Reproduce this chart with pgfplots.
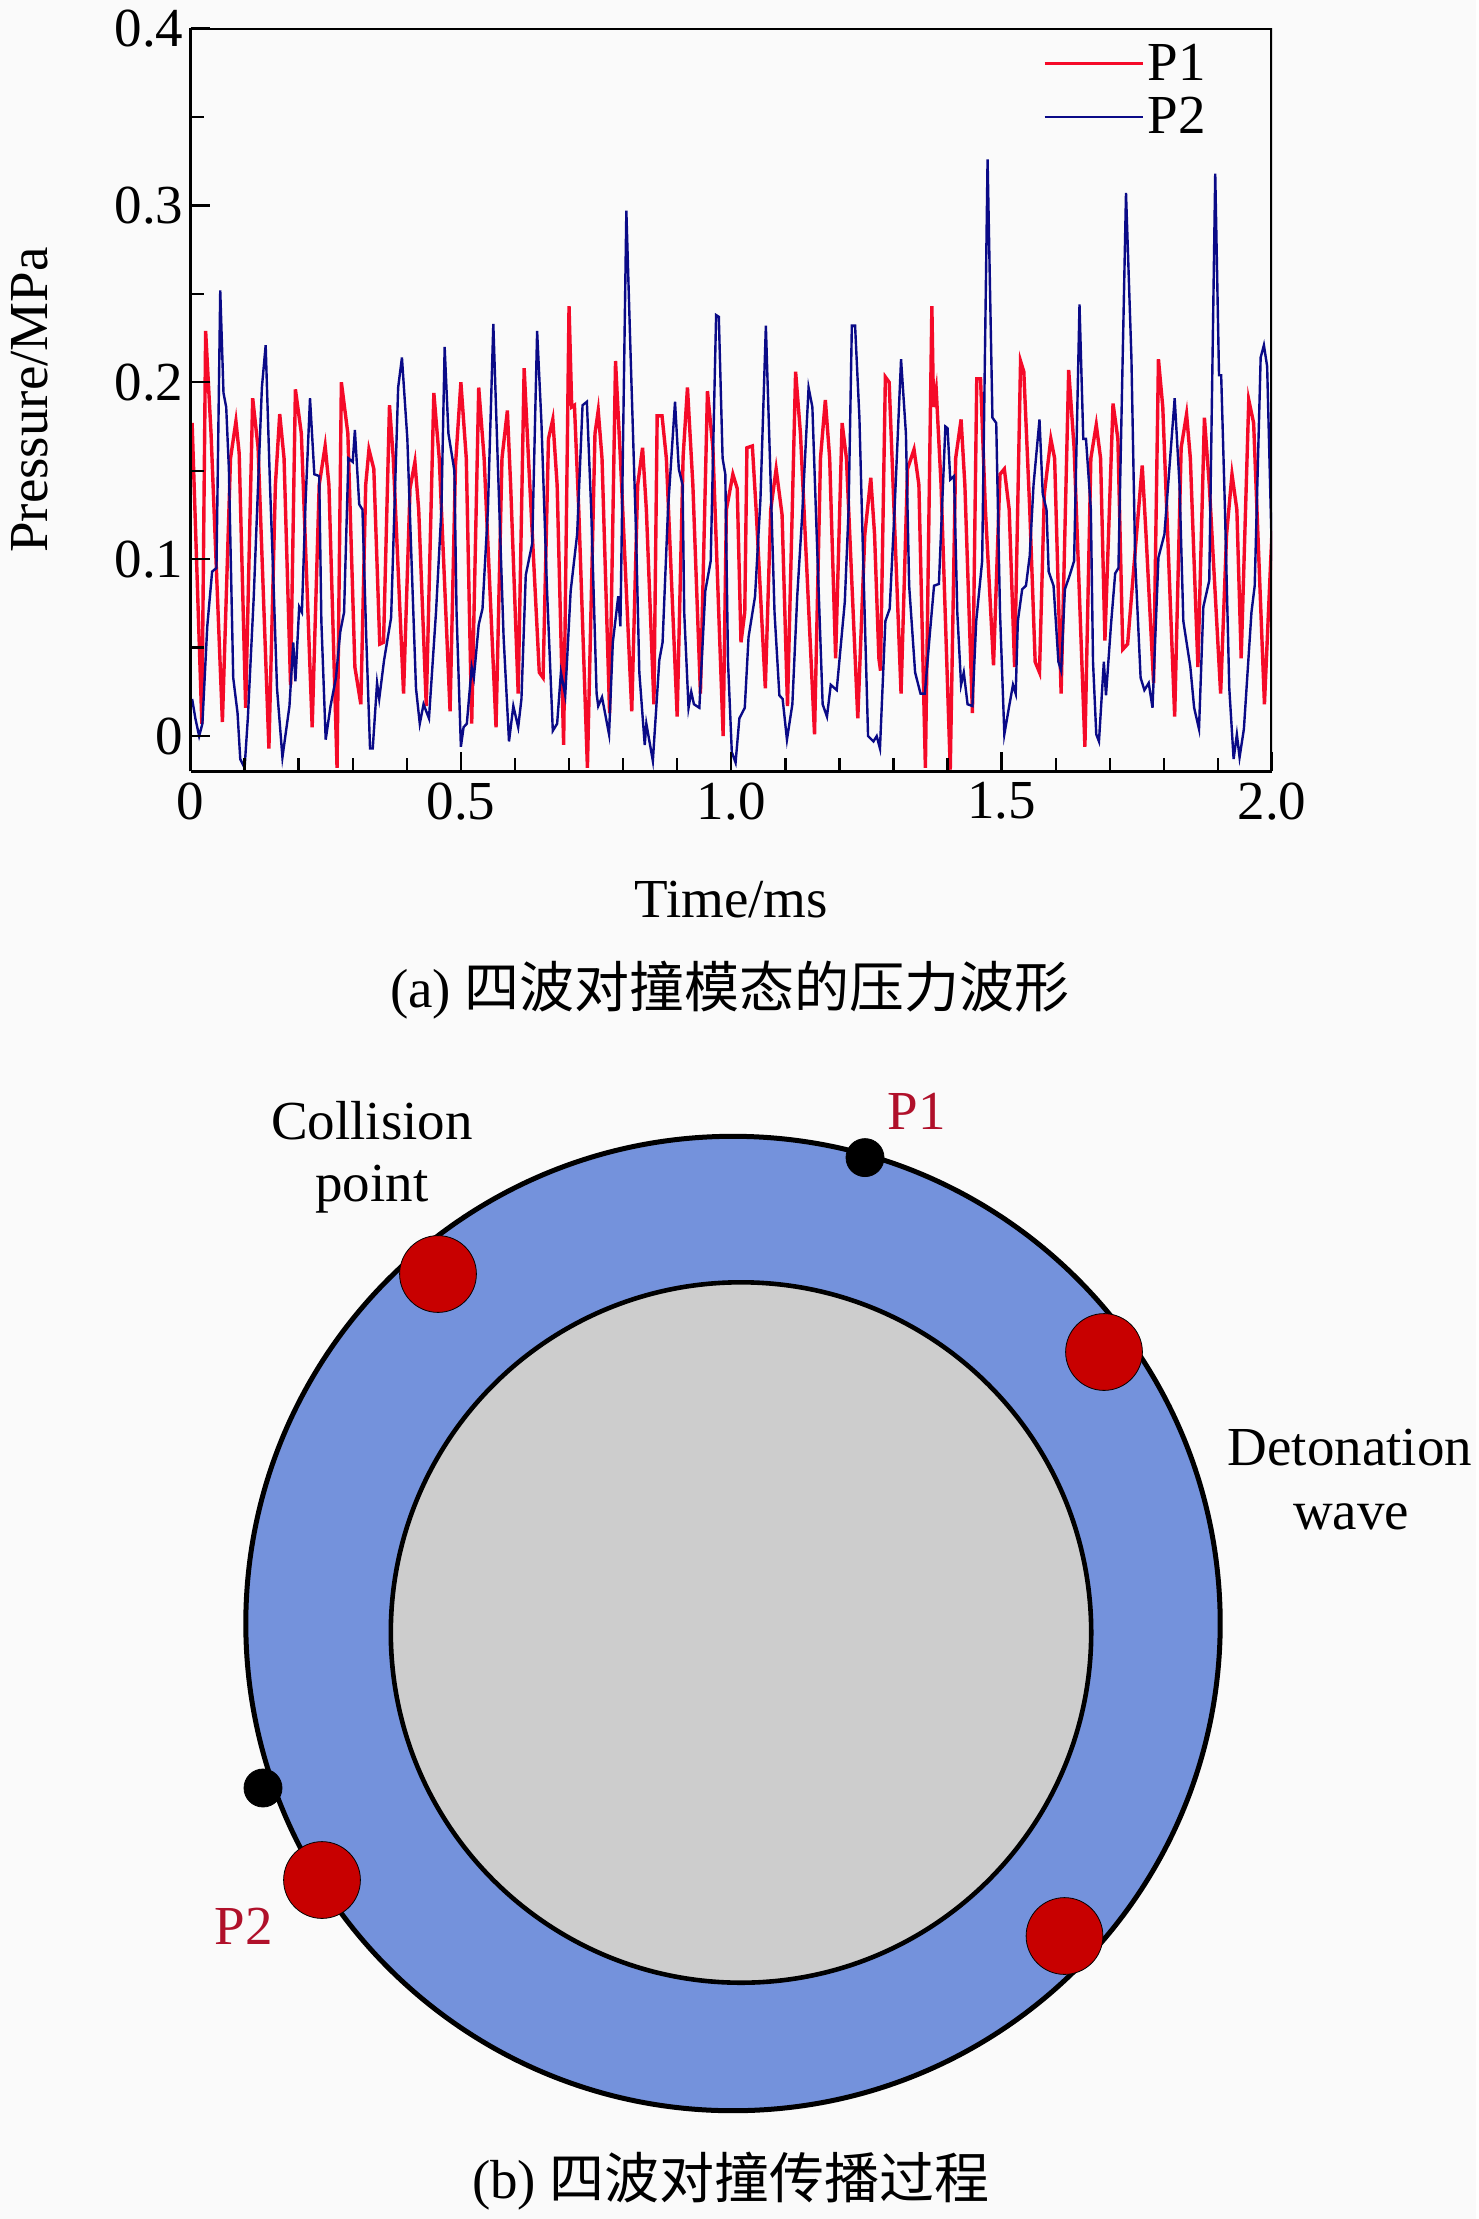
\documentclass[border=0pt]{standalone}
\usepackage{fontspec}
\setmainfont{Liberation Serif}
\newfontfamily\cjk{Noto Sans CJK SC}
\usepackage{pgfplots}
\pgfplotsset{compat=1.18}
\usetikzlibrary{arrows.meta}
\definecolor{bgc}{RGB}{250,250,250}
\definecolor{ringc}{RGB}{116,146,220}
\definecolor{corec}{RGB}{205,205,205}
\definecolor{dotc}{RGB}{200,0,0}
\definecolor{labc}{RGB}{176,16,42}
\definecolor{pa}{RGB}{245,10,40}
\definecolor{pb}{RGB}{10,10,135}
\newcommand{\fs}{\fontsize{27.5}{33}\selectfont}
\begin{document}
\begin{tikzpicture}
% overlay: one unit is one pixel of the reference, y downward
\begin{axis}[
  at={(0pt,0pt)},anchor=south west,scale only axis,
  width=738pt,height=1109.5pt,
  xmin=0,xmax=1476,ymin=0,ymax=2219,y dir=reverse,
  hide axis,clip=false,
]
\fill[bgc] (axis cs:0,0) rectangle (axis cs:1476,2219);
% ring and core
\addplot[only marks,mark=*,mark size=243.6pt,mark options={draw=black,fill=ringc,line width=2.5pt}] coordinates {(733,1623.5)};
\addplot[only marks,mark=*,mark size=175.1pt,mark options={draw=black,fill=corec,line width=2.3pt}] coordinates {(741,1632.5)};
% red dots: collision points and waves
\addplot[only marks,mark=*,mark size=19.2pt,mark options={draw=none,fill=dotc}] coordinates {(438,1274) (1104,1352) (1064.5,1936) (322,1880)};
% black dots: sensors
\addplot[only marks,mark=*,mark size=9.5pt,mark options={draw=none,fill=black}] coordinates {(865,1157.6) (263,1788)};
% dashed arrows
\addplot[smooth,line width=1.3pt,black!85!blue,dash pattern=on 5pt off 5pt,-{Stealth[length=16pt,width=14pt]}] coordinates {(1052,1311) (1015,1268) (990,1248) (945,1227)};
\addplot[smooth,line width=1.3pt,black!85!blue,dash pattern=on 5pt off 5pt,-{Stealth[length=16pt,width=14pt]}] coordinates {(1157,1435) (1170,1458) (1180,1487) (1188,1515) (1192,1567)};
\addplot[smooth,line width=1.3pt,black!85!blue,dash pattern=on 5pt off 5pt,-{Stealth[length=16pt,width=14pt]}] coordinates {(305,1780) (295,1758) (283,1730) (275,1703) (272,1648)};
\addplot[smooth,line width=1.3pt,black!85!blue,dash pattern=on 5pt off 5pt,-{Stealth[length=16pt,width=14pt]}] coordinates {(420,1957) (437,1980) (455,2000) (478,2020) (527,2042)};
% texts
\node[font=\fs,text=labc] at (axis cs:917,1111) {P1};
\node[font=\fs,text=labc] at (axis cs:244,1926) {P2};
\node[font=\fs] at (axis cs:372,1121) {Collision};
\node[font=\fs] at (axis cs:372,1189) {point};
\node[font=\fs] at (axis cs:1350,1448) {Detonation};
\node[font=\fs] at (axis cs:1351,1517) {wave};
\node[font=\fs] at (axis cs:730,990) {(a) {\cjk 四波对撞模态的压力波形}};
\node[font=\fs] at (axis cs:731,2181) {(b) {\cjk 四波对撞传播过程}};
\end{axis}
% chart
\begin{axis}[
  at={(95.25pt,1095.25pt)},anchor=north west,scale only axis,
  width=540.75pt,height=371.5pt,
  xmin=0,xmax=2,ymin=-0.02,ymax=0.4,
  axis x line*=bottom,axis y line*=left,
  axis line style={line width=1.75pt,-},
  axis on top,
  xtick={0,0.5,1,1.5,2},xticklabels={0,0.5,1.0,1.5,2.0},
  ytick={0,0.1,0.2,0.3,0.4},yticklabels={0,0.1,0.2,0.3,0.4},
  minor x tick num=4,minor y tick num=1,
  tick align=inside,
  major tick length=9.5pt,minor tick length=6.5pt,
  every tick/.style={black,line width=1.2pt},
  tick label style={font=\fs},
  xticklabel style={yshift=-2pt},
  xlabel={Time/ms},ylabel={Pressure/MPa},
  label style={font=\fs},
  xlabel style={at={(axis description cs:0.5,-0.173)},anchor=center},
  ylabel style={at={(axis description cs:-0.149,0.5)},anchor=center},
  legend style={draw=none,fill=none,at={(0.788,0.985)},anchor=north west,
    font=\fs,inner sep=0pt,row sep=3pt,
    /tikz/every even column/.append style={column sep=6pt}},
  legend cell align=left,
  legend image code/.code={\draw[#1,line width=1.4pt] (0pt,0pt) -- (49pt,0pt);},
]
\addplot[pa,line width=1.7pt] coordinates {
(.003,.177)(.021,.007)(.028,.229)(.038,.171)(.059,.008)(.074,.157)(.084,.178)(.090,.160)(.102,.016)(.115,.191)
(.125,.163)(.145,-.007)(.157,.142)(.165,.182)(.173,.157)(.185,.029)(.194,.196)(.205,.171)(.225,.005)(.238,.142)
(.249,.164)(.256,.142)(.271,-.018)(.279,.200)(.291,.171)(.304,.039)(.315,.018)(.324,.142)(.330,.162)(.339,.151)
(.350,.052)(.357,.053)(.368,.187)(.375,.157)(.394,.024)(.406,.140)(.415,.155)(.422,.128)(.436,.017)(.450,.194)
(.460,.157)(.480,.014)(.490,.153)(.500,.200)(.510,.157)(.520,.007)(.533,.197)(.543,.157)(.565,.005)(.576,.157)
(.586,.184)(.592,.142)(.606,.024)(.617,.208)(.625,.157)(.645,.036)(.652,.033)(.662,.168)(.670,.179)(.678,.142)
(.690,-.005)(.700,.243)(.705,.186)(.710,.187)(.718,.128)(.734,-.018)(.748,.171)(.754,.184)(.761,.157)(.775,.013)
(.786,.212)(.795,.157)(.816,.014)(.827,.142)(.836,.163)(.843,.128)(.857,.018)(.863,.181)(.872,.181)(.880,.157)
(.900,.011)(.911,.158)(.919,.197)(.929,.142)(.943,.024)(.956,.195)(.966,.163)(.985,.000)(.991,.128)(1.003,.148)
(1.011,.140)(1.018,.053)(1.025,.070)(1.029,.163)(1.039,.164)(1.046,.128)(1.063,.027)(1.073,.128)(1.083,.151)(1.094,.125)
(1.104,.017)(1.119,.206)(1.128,.171)(1.154,.001)(1.165,.157)(1.174,.190)(1.182,.157)(1.193,.044)(1.205,.177)(1.213,.157)
(1.234,.010)(1.247,.114)(1.258,.146)(1.265,.114)(1.273,.044)(1.276,.037)(1.285,.203)(1.292,.200)(1.314,.024)(1.326,.151)
(1.338,.162)(1.347,.142)(1.359,-.018)(1.371,.243)(1.374,.186)(1.379,.196)(1.388,.142)(1.405,-.019)(1.415,.157)(1.425,.179)
(1.432,.142)(1.446,.013)(1.454,.202)(1.461,.202)(1.470,.128)(1.485,.040)(1.497,.148)(1.505,.151)(1.514,.128)(1.524,.039)
(1.535,.212)(1.541,.206)(1.552,.128)(1.562,.042)(1.570,.036)(1.579,.137)(1.591,.168)(1.598,.157)(1.610,.024)(1.624,.207)
(1.634,.163)(1.654,-.006)(1.665,.157)(1.675,.176)(1.683,.157)(1.691,.054)(1.706,.188)(1.715,.168)(1.724,.049)(1.733,.052)
(1.750,.116)(1.760,.153)(1.767,.114)(1.781,.030)(1.790,.213)(1.798,.186)(1.820,.011)(1.832,.163)(1.842,.182)(1.849,.157)
(1.863,.039)(1.875,.180)(1.884,.142)(1.905,.024)(1.916,.114)(1.926,.148)(1.935,.128)(1.943,.044)(1.957,.190)(1.966,.177)
(1.986,.018)(2.000,.116)
};
\addlegendentry{P1}
\addplot[pb,line width=1.2pt] coordinates {
(.003,.021)(.009,.010)(.016,.000)(.022,.007)(.031,.062)(.040,.093)(.048,.095)(.055,.252)(.061,.194)(.066,.186)
(.071,.151)(.079,.033)(.087,.013)(.092,-.013)(.100,-.018)(.106,.010)(.117,.079)(.132,.197)(.139,.221)(.147,.142)
(.153,.091)(.160,.027)(.170,-.012)(.183,.017)(.190,.053)(.194,.031)(.201,.073)(.206,.070)(.213,.134)(.221,.191)
(.229,.148)(.238,.147)(.242,.065)(.250,-.002)(.259,.017)(.269,.033)(.277,.059)(.284,.070)(.292,.157)(.300,.155)
(.304,.173)(.312,.131)(.318,.128)(.325,.056)(.332,-.007)(.337,-.007)(.345,.030)(.349,.021)(.358,.043)(.371,.067)
(.384,.197)(.391,.214)(.401,.168)(.410,.088)(.417,.027)(.424,.007)(.431,.018)(.441,.010)(.454,.070)(.464,.128)
(.470,.220)(.477,.171)(.488,.150)(.492,.070)(.500,-.006)(.505,.005)(.511,.007)(.520,.039)(.524,.033)(.533,.063)
(.540,.072)(.550,.128)(.560,.233)(.568,.157)(.579,.056)(.589,-.003)(.597,.017)(.606,.005)(.612,.021)(.620,.091)
(.632,.109)(.641,.229)(.649,.177)(.659,.085)(.670,.003)(.678,.007)(.685,.036)(.693,.023)(.703,.082)(.715,.114)
(.725,.187)(.733,.189)(.741,.128)(.751,.024)(.754,.017)(.761,.022)(.774,.001)(.781,.053)(.791,.079)(.795,.062)
(.806,.297)(.814,.214)(.824,.114)(.830,.036)(.840,-.005)(.843,.007)(.855,-.014)(.867,.043)(.873,.053)(.883,.128)
(.896,.189)(.903,.151)(.910,.142)(.913,.070)(.921,.016)(.926,.025)(.931,.018)(.941,.016)(.952,.082)(.962,.099)
(.972,.238)(.977,.237)(.984,.157)(.989,.148)(.994,.042)(1.001,-.009)(1.008,-.015)(1.015,.010)(1.025,.016)(1.032,.056)
(1.044,.079)(1.054,.134)(1.064,.232)(1.073,.142)(1.080,.070)(1.089,.023)(1.095,.021)(1.103,-.002)(1.113,.018)(1.122,.079)
(1.131,.124)(1.143,.197)(1.150,.186)(1.158,.114)(1.169,.018)(1.177,.011)(1.184,.029)(1.195,.026)(1.210,.076)(1.217,.128)
(1.223,.232)(1.229,.232)(1.237,.180)(1.244,.099)(1.253,.000)(1.263,-.003)(1.269,.000)(1.275,-.007)(1.285,.065)(1.293,.072)
(1.302,.128)(1.314,.213)(1.323,.171)(1.329,.085)(1.340,.036)(1.350,.024)(1.358,.024)(1.367,.057)(1.375,.085)(1.384,.086)
(1.396,.175)(1.400,.174)(1.405,.145)(1.412,.147)(1.418,.070)(1.425,.029)(1.430,.036)(1.437,.018)(1.446,.017)(1.453,.065)
(1.464,.099)(1.474,.326)(1.483,.180)(1.490,.177)(1.497,.070)(1.505,.001)(1.514,.017)(1.521,.029)(1.526,.024)(1.530,.065)
(1.538,.083)(1.545,.085)(1.552,.102)(1.559,.142)(1.570,.179)(1.576,.137)(1.583,.128)(1.587,.093)(1.596,.085)(1.605,.042)
(1.610,.037)(1.617,.083)(1.626,.091)(1.634,.099)(1.644,.244)(1.651,.168)(1.656,.168)(1.665,.128)(1.669,.042)(1.675,.001)
(1.680,-.003)(1.689,.042)(1.693,.023)(1.702,.062)(1.710,.092)(1.716,.095)(1.730,.307)(1.740,.214)(1.747,.099)(1.757,.033)
(1.764,.026)(1.772,.030)(1.779,.016)(1.790,.101)(1.801,.114)(1.820,.191)(1.829,.142)(1.836,.065)(1.849,.039)(1.856,.016)
(1.865,.004)(1.873,.073)(1.884,.088)(1.895,.318)(1.902,.204)(1.906,.204)(1.913,.128)(1.921,.027)(1.929,-.013)(1.935,.001)
(1.940,-.012)(1.948,.004)(1.962,.070)(1.968,.085)(1.979,.214)(1.985,.221)(1.991,.209)(2.000,.099)
};
\addlegendentry{P2}
% closing frame: top and right sides
\draw[black,line width=1.75pt] (rel axis cs:0,1) -- (rel axis cs:1,1) -- (rel axis cs:1,0);
\end{axis}
\end{tikzpicture}
\end{document}
